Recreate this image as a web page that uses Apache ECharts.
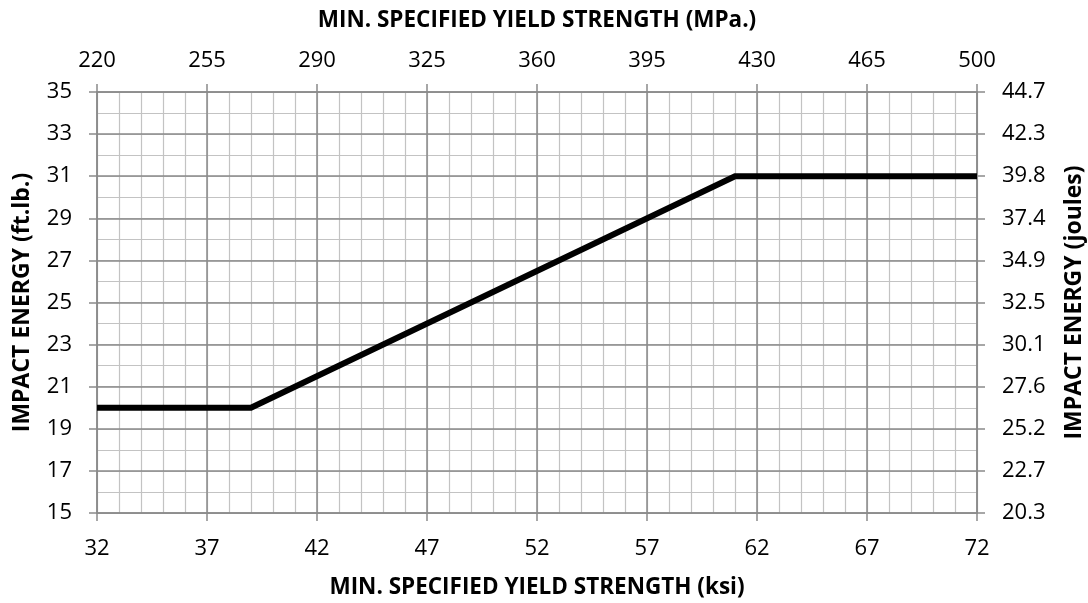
<!DOCTYPE html>
<html>
<head>
<meta charset="utf-8">
<script src="https://cdn.jsdelivr.net/npm/echarts@6/dist/echarts.min.js"></script>
<style>html,body{margin:0;padding:0;background:#fff}#c{width:1088px;height:603px}</style>
</head>
<body>
<div id="c"></div>
<script>
// Data
var ksi = [32, 39, 61, 72];
var ftlb = [20, 20, 31, 31];
// Tick values / labels
var ksiTicks = [32, 37, 42, 47, 52, 57, 62, 67, 72];
var mpaLabels = ['220', '255', '290', '325', '360', '395', '430', '465', '500'];
var ftlbTicks = [15, 17, 19, 21, 23, 25, 27, 29, 31, 33, 35];
var jouleLabels = ['20.3', '22.7', '25.2', '27.6', '30.1', '32.5', '34.9', '37.4', '39.8', '42.3', '44.7'];

var FONT = 'Open Sans';
var MAJOR = '#8a8a8a';
var MINOR = '#c3c3c3';
var xNameStyle = { color: '#000', fontSize: 22.5, fontWeight: 'bold', fontFamily: FONT };
var yNameStyle = { color: '#000', fontSize: 23, fontWeight: 'bold', fontFamily: FONT };

function majorX(pos, labels, name, gap, margin) {
  return {
    type: 'value', position: pos, min: 32, max: 72, z: 2,
    name: name, nameLocation: 'middle', nameGap: gap, nameMoveOverlap: false, nameTextStyle: xNameStyle,
    axisLine: { show: true, lineStyle: { color: MAJOR, width: 1.5 } },
    axisTick: { show: true, inside: false, length: 8, customValues: ksiTicks, lineStyle: { color: MAJOR, width: 1.5 } },
    axisLabel: { show: true, margin: margin, customValues: ksiTicks,
      color: '#000', fontSize: 22, fontFamily: FONT,
      formatter: function (v) { var i = ksiTicks.indexOf(v); return labels ? labels[i] : String(v); } },
    splitLine: { show: pos === 'bottom', lineStyle: { color: MAJOR, width: 1.5 } }
  };
}
function majorY(pos, labels, name, gap) {
  return {
    type: 'value', position: pos, min: 15, max: 35, z: 2,
    name: name, nameLocation: 'middle', nameGap: gap, nameRotate: 90, nameMoveOverlap: false, nameTextStyle: yNameStyle,
    axisLine: { show: true, lineStyle: { color: MAJOR, width: 1.5 } },
    axisTick: { show: true, inside: false, length: 8, customValues: ftlbTicks, lineStyle: { color: MAJOR, width: 1.5 } },
    axisLabel: { show: true, margin: 25, customValues: ftlbTicks,
      color: '#000', fontSize: 22, fontFamily: FONT,
      formatter: function (v) { var i = ftlbTicks.indexOf(v); return labels ? labels[i] : String(v); } },
    splitLine: { show: pos === 'left', lineStyle: { color: MAJOR, width: 1.5 } }
  };
}
var minorX = {
  type: 'value', position: 'bottom', min: 32, max: 72, interval: 1, z: 0,
  axisLine: { show: false }, axisTick: { show: false }, axisLabel: { show: false },
  splitLine: { show: true, lineStyle: { color: MINOR, width: 1.2 } }
};
var minorY = {
  type: 'value', position: 'left', min: 15, max: 35, interval: 1, z: 0,
  axisLine: { show: false }, axisTick: { show: false }, axisLabel: { show: false },
  splitLine: { show: true, lineStyle: { color: MINOR, width: 1.2 } }
};

var chart = echarts.init(document.getElementById('c'), null, { renderer: 'canvas' });
chart.setOption({
  animation: false,
  backgroundColor: '#fff',
  grid: { left: 97, right: 111, top: 92, bottom: 90, containLabel: false, outerBoundsMode: 'none' },
  xAxis: [
    minorX,
    majorX('bottom', null, 'MIN. SPECIFIED YIELD STRENGTH (ksi)', 63, 25),
    majorX('top', mpaLabels, 'MIN. SPECIFIED YIELD STRENGTH (MPa.)', 60, 20)
  ],
  yAxis: [
    minorY,
    majorY('left', null, 'IMPACT ENERGY (ft.lb.)', 63),
    majorY('right', jouleLabels, 'IMPACT ENERGY (joules)', 86)
  ],
  series: [{
    type: 'line', xAxisIndex: 1, yAxisIndex: 1, z: 5,
    data: ksi.map(function (x, i) { return [x, ftlb[i]]; }),
    symbol: 'none', showSymbol: false,
    lineStyle: { color: '#000', width: 6, cap: 'butt', join: 'miter' }
  }]
});
</script>
</body>
</html>
